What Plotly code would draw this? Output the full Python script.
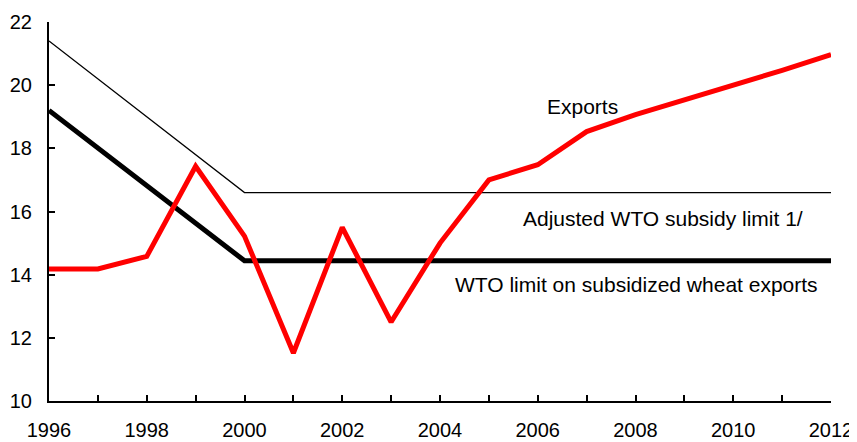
import plotly.graph_objects as go

years = list(range(1996, 2013))
exports = [14.18, 14.18, 14.58, 17.43, 15.22, 11.52, 15.5, 12.5, 15.0, 17.0,
           17.48, 18.53, 19.07, 19.54, 19.98, 20.47, 20.97]
adjusted_limit = [21.4, 20.2, 19.0, 17.8, 16.6, 16.6, 16.6, 16.6, 16.6, 16.6,
                  16.6, 16.6, 16.6, 16.6, 16.6, 16.6, 16.6]
wto_limit = [19.2, 18.0, 16.8, 15.6, 14.44, 14.44, 14.44, 14.44, 14.44, 14.44,
             14.44, 14.44, 14.44, 14.44, 14.44, 14.44, 14.44]
x_tick_labels = [str(y) if y % 2 == 0 else "" for y in years]
y_ticks = [10, 12, 14, 16, 18, 20, 22]

labels = ["Exports", "Adjusted WTO subsidy limit 1/", "WTO limit on subsidized wheat exports"]
label_x = [2006.92, 2008.57, 2008.02]
label_y = [19.32, 15.78, 13.69]

FONT = "Liberation Sans, Arial, sans-serif"

fig = go.Figure()
fig.add_trace(go.Scatter(x=years, y=adjusted_limit, mode="lines",
                         line=dict(color="black", width=1.3), showlegend=False))
fig.add_trace(go.Scatter(x=years, y=wto_limit, mode="lines",
                         line=dict(color="black", width=5), showlegend=False))
fig.add_trace(go.Scatter(x=years, y=exports, mode="lines",
                         line=dict(color="#ff0000", width=5), showlegend=False))

for t, lx, ly in zip(labels, label_x, label_y):
    fig.add_annotation(x=lx, y=ly, text=t, showarrow=False,
                       font=dict(family=FONT, size=21, color="black"),
                       xanchor="center", yanchor="middle")

fig.update_layout(
    width=849, height=434,
    margin=dict(l=41, r=26, t=14, b=41),
    paper_bgcolor="white", plot_bgcolor="white",
    font=dict(family=FONT, size=20, color="black"),
    xaxis=dict(range=[1996, 2012], tickvals=years, ticktext=x_tick_labels,
               ticks="inside", ticklen=6, tickwidth=2, tickcolor="black",
               showline=True, linecolor="black", linewidth=2, automargin=False,
               showgrid=False, zeroline=False, ticklabelstandoff=10),
    yaxis=dict(range=[10, 22], tickvals=y_ticks, automargin=False,
               ticks="inside", ticklen=6, tickwidth=2, tickcolor="black",
               showline=True, linecolor="black", linewidth=2,
               showgrid=False, zeroline=False, ticklabelstandoff=11),
)

fig.write_html("out.html")
